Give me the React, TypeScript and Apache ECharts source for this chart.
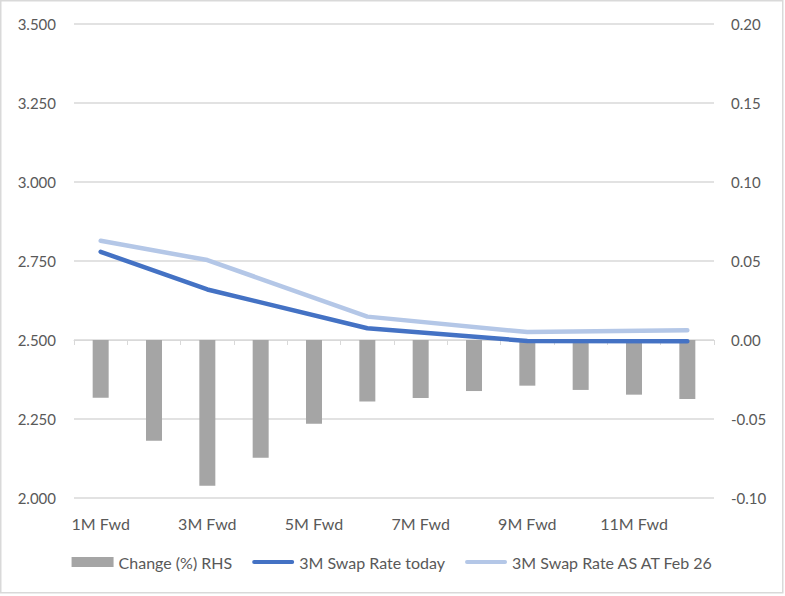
import React, { useEffect, useRef } from "react";
import * as echarts from "echarts";

const categories = [
  "1M Fwd", "2M Fwd", "3M Fwd", "4M Fwd", "5M Fwd", "6M Fwd",
  "7M Fwd", "8M Fwd", "9M Fwd", "10M Fwd", "11M Fwd", "12M Fwd",
];
const changeRHS = [
  -0.0365, -0.0637, -0.0922, -0.0745, -0.053, -0.039,
  -0.0367, -0.0323, -0.0289, -0.0316, -0.0346, -0.0373,
];
const swapToday = [2.779, null, 2.66, null, null, 2.537, null, null, 2.497, null, null, 2.496];
const swapFeb26 = [2.814, null, 2.753, null, null, 2.574, null, null, 2.525, null, null, 2.531];
const leftTicks = { min: 2.0, max: 3.5, interval: 0.25 };
const rightTicks = { min: -0.1, max: 0.2, interval: 0.05 };

const FONT = "Lato";
const TXT = "#595959";
const GRID = "#D9D9D9";
const LINE_ICON = "path://M2,0 L42,0 A2,2 0 0 1 42,4 L2,4 A2,2 0 0 1 2,0 Z";

export default function App() {
  const ref = useRef<HTMLDivElement>(null);
  useEffect(() => {
    document.body.style.margin = "0";
    const chart = echarts.init(ref.current!, null, { renderer: "svg" });
    chart.setOption({
      animation: false,
      textStyle: { fontFamily: FONT },
      graphic: [
        {
          type: "rect",
          shape: { x: 0.75, y: 0.75, width: 782, height: 592 },
          style: { fill: "none", stroke: GRID, lineWidth: 1.5 },
          silent: true,
        },
      ],
      grid: { left: 74, right: 71, top: 24, bottom: 98, containLabel: false },
      legend: {
        bottom: 21,
        left: "center",
        itemWidth: 42,
        itemHeight: 10,
        itemGap: 20,
        symbolKeepAspect: true,
        textStyle: { color: TXT, fontSize: 16, fontFamily: FONT },
        data: [
          { name: "Change (%) RHS", icon: "rect" },
          { name: "3M Swap Rate today", icon: LINE_ICON },
          { name: "3M Swap Rate AS AT Feb 26", icon: LINE_ICON },
        ],
      },
      xAxis: {
        type: "category",
        data: categories,
        boundaryGap: true,
        axisLine: { lineStyle: { color: GRID, width: 1 } },
        axisTick: { show: true, interval: 0, length: 5, lineStyle: { color: GRID } },
        axisLabel: { interval: 1, color: TXT, fontSize: 16, margin: 17, fontFamily: FONT },
      },
      yAxis: [
        {
          type: "value",
          min: leftTicks.min,
          max: leftTicks.max,
          interval: leftTicks.interval,
          axisLine: { show: false },
          axisTick: { show: false },
          splitLine: { lineStyle: { color: GRID, width: 1.5 } },
          axisLabel: {
            color: TXT, fontSize: 15, margin: 18, fontFamily: FONT,
            formatter: (v: number) => v.toFixed(3),
          },
        },
        {
          type: "value",
          min: rightTicks.min,
          max: rightTicks.max,
          interval: rightTicks.interval,
          axisLine: { show: false },
          axisTick: { show: false },
          splitLine: { show: false },
          axisLabel: {
            color: TXT, fontSize: 15, margin: 17, fontFamily: FONT,
            formatter: (v: number) => v.toFixed(2),
          },
        },
      ],
      series: [
        {
          name: "Change (%) RHS",
          type: "bar",
          yAxisIndex: 1,
          data: changeRHS,
          barWidth: 16,
          itemStyle: { color: "#A5A5A5" },
        },
        {
          name: "3M Swap Rate today",
          type: "line",
          yAxisIndex: 0,
          data: swapToday,
          connectNulls: true,
          symbol: "none",
          lineStyle: { color: "#4472C4", width: 4.5, cap: "round", join: "round" },
          itemStyle: { color: "#4472C4" },
          z: 4,
        },
        {
          name: "3M Swap Rate AS AT Feb 26",
          type: "line",
          yAxisIndex: 0,
          data: swapFeb26,
          connectNulls: true,
          symbol: "none",
          lineStyle: { color: "#B4C7E7", width: 4.5, cap: "round", join: "round" },
          itemStyle: { color: "#B4C7E7" },
          z: 3,
        },
      ],
    });
    return () => chart.dispose();
  }, []);
  return <div ref={ref} style={{ width: 785, height: 596 }} />;
}
